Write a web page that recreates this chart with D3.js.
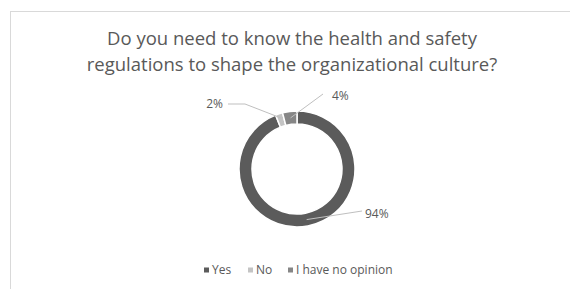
<!DOCTYPE html>
<html>
<head>
<meta charset="utf-8">
<script src="https://cdn.jsdelivr.net/npm/d3@7"></script>
<style>
  body { margin: 0; background: #fff; }
  text { font-family: "Open Sans", sans-serif; fill: #595959; }
</style>
</head>
<body>
<div id="chart"></div>
<script>
// chart data
const titleLines = ["Do you need to know the health and safety", "regulations to shape the organizational culture?"];
const categories = ["Yes", "No", "I have no opinion"];
const values = [94, 2, 4];
const colors = ["#5b5b5b", "#c4c4c4", "#868686"];

const width = 570, height = 289;

const svg = d3.select("#chart").append("svg")
    .attr("width", width)
    .attr("height", height);

// chart area border (Excel frame, right/bottom fall off the image)
svg.append("rect")
    .attr("x", 10.5)
    .attr("y", 11.5)
    .attr("width", 600)
    .attr("height", 300)
    .attr("fill", "none")
    .attr("stroke", "#d9d9d9");

// title
svg.append("g")
    .selectAll("text")
    .data(titleLines)
    .join("text")
    .attr("x", 292)
    .attr("y", (d, i) => 45 + i * 26)
    .attr("text-anchor", "middle")
    .attr("font-size", "18.5px")
    .text(d => d);

// donut
const cx = 297, cy = 169;
const outerR = 58, innerR = 45;

const pie = d3.pie().sort(null).value(d => d);
const arcs = pie(values);
const arc = d3.arc().innerRadius(innerR).outerRadius(outerR);

const g = svg.append("g").attr("transform", `translate(${cx},${cy})`);

g.selectAll("path")
    .data(arcs)
    .join("path")
    .attr("d", arc)
    .attr("fill", (d, i) => colors[i])
    .attr("stroke", "#fff")
    .attr("stroke-width", 1.5);

// data labels with leader lines
const labelPos = [
    {x: 365, y: 218, anchor: "start"},
    {x: 223, y: 108, anchor: "end"},
    {x: 332, y: 100, anchor: "start"}
];
const midArc = d3.arc().innerRadius((innerR + outerR) / 2).outerRadius((innerR + outerR) / 2);

arcs.forEach((d, i) => {
    const p = midArc.centroid(d);
    const lp = labelPos[i];
    let pts;
    if (i === 0) pts = [[cx + p[0], cy + p[1]], [lp.x - 3, lp.y - 7]];
    else if (i === 1) pts = [[cx + p[0], cy + p[1] - 2], [lp.x + 22, lp.y - 4], [lp.x + 5, lp.y - 4]];
    else pts = [[cx + p[0], cy + p[1]], [lp.x - 9, lp.y - 6]];
    svg.append("path")
        .attr("d", d3.line()(pts))
        .attr("fill", "none")
        .attr("stroke", "#bfbfbf")
        .attr("stroke-width", 1);
    svg.append("text")
        .attr("x", lp.x)
        .attr("y", lp.y)
        .attr("text-anchor", lp.anchor)
        .attr("font-size", "12px")
        .text(values[i] + "%");
});

// legend
const legendX = [204, 248, 288];
const legend = svg.append("g")
    .selectAll("g")
    .data(categories)
    .join("g")
    .attr("transform", (d, i) => `translate(${legendX[i]},274)`);

legend.append("rect")
    .attr("x", 0)
    .attr("y", -6.5)
    .attr("width", 5)
    .attr("height", 5)
    .attr("fill", (d, i) => colors[i]);

legend.append("text")
    .attr("x", 8)
    .attr("y", 0)
    .attr("font-size", "12px")
    .text(d => d);
</script>
</body>
</html>
